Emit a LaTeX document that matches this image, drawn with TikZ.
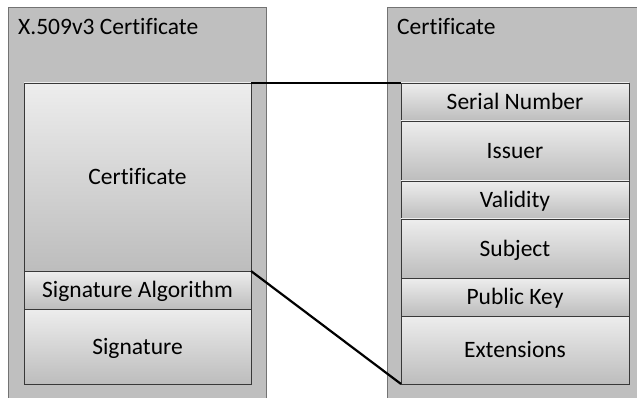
\documentclass[tikz,border=0pt]{standalone}
\usepackage{fontspec}
\setmainfont{Carlito}[Ligatures=NoCommon]
\usetikzlibrary{shadows}
\begin{document}
\begin{tikzpicture}[x=1pt,y=-1pt,
  outerbox/.style={fill=black!25,draw=black!55,line width=0.8pt},
  field/.style={draw=black!78,line width=0.8pt,top color=black!7,bottom color=black!26,
    inner sep=0pt,outer sep=0pt,anchor=north west,font=\fontsize{23.5}{28}\selectfont,
    text height=15pt,text depth=0pt,
    drop shadow={shadow xshift=0.8pt,shadow yshift=-0.8pt,opacity=0.35,fill=black!60}},
  title/.style={anchor=base west,inner sep=0pt,font=\fontsize{23.5}{28}\selectfont},
  link/.style={line width=2.2pt,black}]
\useasboundingbox (0,0) rectangle (637,398);
\clip (0,0) rectangle (637,398);
% outer containers
\fill[white] (0,0) rectangle (637,398);
\draw[outerbox] (8.5,7.5) rectangle (266,410);
\draw[outerbox] (387,7.5) rectangle (650,410);
\node[title] (ltitle) at (18,35) {X.509v3 Certificate};
\node[title] (rtitle) at (397,35) {Certificate};
% left stack
\node[field,minimum width=227,minimum height=188] (cert) at (24,83) {Certificate};
\node[field,minimum width=227,minimum height=38] (sigalg) at (24,271) {Signature Algorithm};
\node[field,minimum width=227,minimum height=75] (sig) at (24,309) {Signature};
% right stack
\node[field,minimum width=228,minimum height=38] (serial) at (401,83) {Serial Number};
\node[field,minimum width=228,minimum height=60] (issuer) at (401,121) {Issuer};
\node[field,minimum width=228,minimum height=38] (valid) at (401,181) {Validity};
\node[field,minimum width=228,minimum height=59] (subject) at (401,219) {Subject};
\node[field,minimum width=228,minimum height=38] (pubkey) at (401,278) {Public Key};
\node[field,minimum width=228,minimum height=68] (ext) at (401,316) {Extensions};
% expansion lines
\draw[link] (cert.north east) -- (serial.north west);
\draw[link] (cert.south east) -- (ext.south west);
\end{tikzpicture}
\end{document}
